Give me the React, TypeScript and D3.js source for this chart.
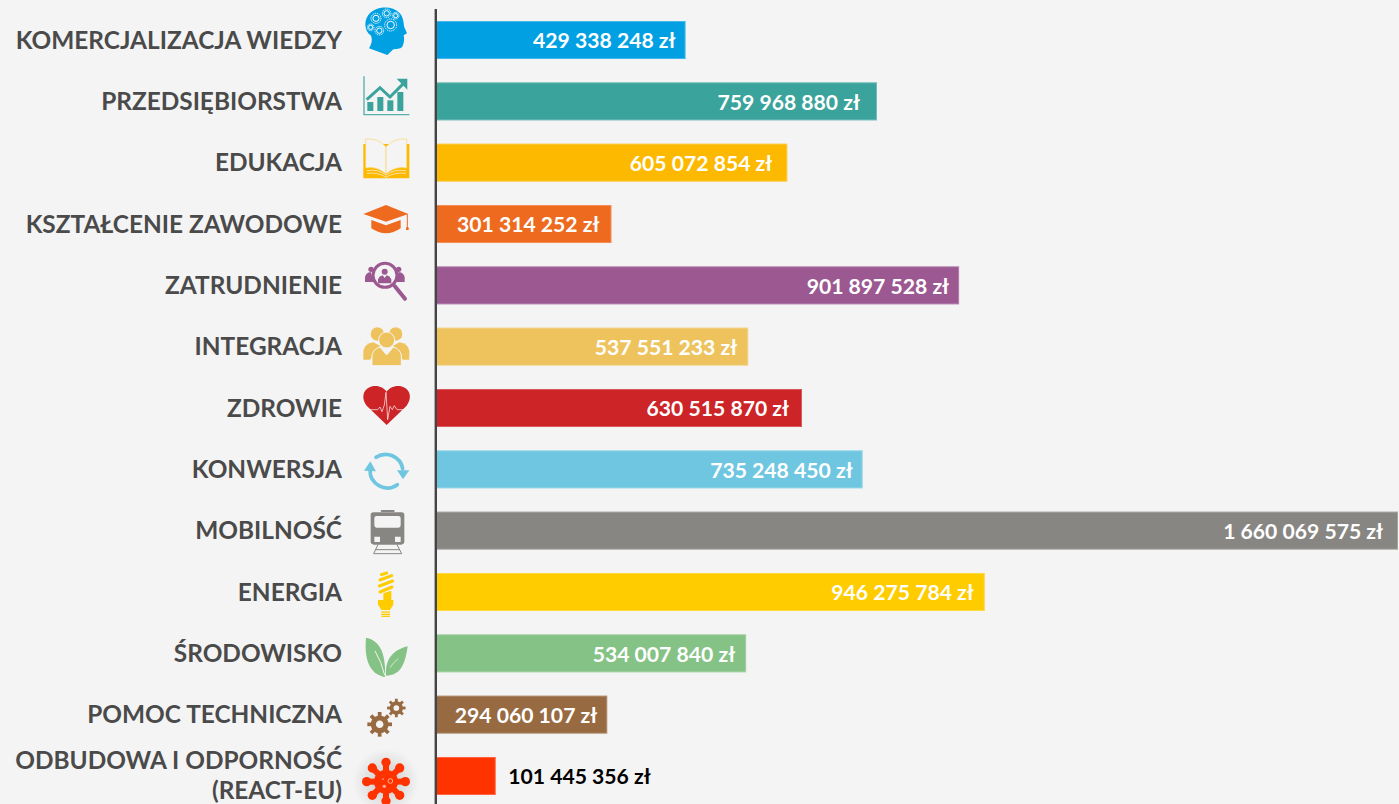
import * as d3 from "d3";
import React from "react";

const WIDTH = 1399;
const HEIGHT = 804;

const categories = [
  "KOMERCJALIZACJA WIEDZY",
  "PRZEDSIĘBIORSTWA",
  "EDUKACJA",
  "KSZTAŁCENIE ZAWODOWE",
  "ZATRUDNIENIE",
  "INTEGRACJA",
  "ZDROWIE",
  "KONWERSJA",
  "MOBILNOŚĆ",
  "ENERGIA",
  "ŚRODOWISKO",
  "POMOC TECHNICZNA",
  "ODBUDOWA I ODPORNOŚĆ|(REACT-EU)",
];

const amounts = [
  429338248, 759968880, 605072854, 301314252, 901897528, 537551233, 630515870,
  735248450, 1660069575, 946275784, 534007840, 294060107, 101445356,
];

const colors = [
  "#00a0e3", "#3aa39c", "#fdb900", "#ee6a1f", "#9b5891", "#eec35e", "#cd2427",
  "#6ec6e0", "#888682", "#ffcc00", "#85c285", "#986a41", "#ff3300",
];

// gap between the end of the amount and the end of its bar
const labelInsets = [10, 17, 15, 12, 10, 11, 13, 10, 15, 11, 11, 10];

const x = d3.scaleLinear().domain([0, 1660069575]).range([437, 1398]);
const y = d3.scaleBand<number>().domain(d3.range(categories.length)).range([21, 795]).paddingInner(0.38);

const BG = "#f4f4f4";

// polish thousands spacing
const formatZl = (v: number) => d3.format(",")(v).replace(/,/g, " ") + " zł";

// Icons are sketched in 3x zoomed pixels, anchored with refY to the middle of their bar
function Head({ c }: { c: string }) {
  const gears: [number, number, number][] = [[78, 55, 15], [110, 40, 13], [137, 47, 10], [122, 75, 18], [88, 92, 13], [62, 82, 10]];
  return (
    <g>
      <path fill={c} d="M57,145 C66,130 68,118 62,106 C45,95 40,65 55,45 C75,18 125,15 148,38 C162,52 160,70 163,82 L171,100 L161,106 C164,118 162,130 157,140 C150,148 138,146 130,148 L112,165 Z" />
      {gears.map(([cx, cy, r], i) => (
        <g key={i} fill="none" stroke="#fff">
          <circle cx={cx} cy={cy} r={r * 0.62} strokeWidth={3} />
          <circle cx={cx} cy={cy} r={r} strokeWidth={3} strokeDasharray="3.5 2.5" />
        </g>
      ))}
    </g>
  );
}

function Growth({ c }: { c: string }) {
  return (
    <g fill={c}>
      <path d="M42,228 V343 H178" fill="none" stroke={c} strokeWidth={4} opacity={0.85} />
      <rect x={52} y={305} width={18} height={27} />
      <rect x={82} y={290} width={18} height={42} />
      <rect x={112} y={300} width={18} height={32} />
      <rect x={142} y={275} width={18} height={57} />
      <path d="M50,298 L90,262 L120,290 L160,250" fill="none" stroke={c} strokeWidth={9} />
      <path d="M140,235 H172 V268 Z" />
    </g>
  );
}

function Book({ c }: { c: string }) {
  return (
    <g>
      <path fill={c} d="M40,430 H178 V533 H40 Z" />
      <path fill={BG} stroke="#fdd36b" strokeWidth={2} d="M47,415 Q85,412 108,438 V520 Q80,495 47,502 Z" />
      <path fill={BG} stroke="#fdd36b" strokeWidth={2} d="M170,415 Q132,412 108,438 V520 Q136,495 170,502 Z" />
      <path fill="none" stroke={BG} strokeWidth={2} d="M50,510 Q85,504 108,524 Q132,504 168,510 M50,518 Q85,514 108,530 Q132,514 168,518" />
    </g>
  );
}

function Cap({ c }: { c: string }) {
  return (
    <g fill={c}>
      <path d="M40,642 L108,615 L175,642 L108,665 Z" />
      <path d="M64,660 L108,676 L152,660 V685 Q108,715 64,685 Z" />
      <path d="M172,642 V685" stroke={c} strokeWidth={3} />
      <rect x={168} y={682} width={8} height={8} />
    </g>
  );
}

function Magnifier({ c }: { c: string }) {
  return (
    <g fill={c}>
      <circle cx={63} cy={42} r={8} />
      <circle cx={146} cy={42} r={8} />
      <path d="M45,80 V66 Q47,52 62,50 L72,80 Z" />
      <path d="M164,80 V66 Q162,52 146,50 L136,80 Z" />
      <circle cx={105} cy={60} r={36} fill={BG} stroke={c} strokeWidth={9} />
      <circle cx={104} cy={49} r={9} />
      <path d="M84,84 V72 Q88,62 98,60 L104,68 L110,60 Q120,62 124,72 V84 Z" />
      <path d="M134,92 L165,130" stroke={c} strokeWidth={12} strokeLinecap="round" />
    </g>
  );
}

function People({ c }: { c: string }) {
  return (
    <g fill={c}>
      <circle cx={82} cy={235} r={20} />
      <circle cx={137} cy={235} r={20} />
      <path d="M40,312 V285 Q44,264 70,260 L90,270 L60,312 Z" />
      <path d="M178,312 V285 Q174,264 148,260 L130,270 L158,312 Z" />
      <circle cx={110} cy={253} r={24} stroke={BG} strokeWidth={3} />
      <path stroke={BG} strokeWidth={3} d="M66,330 V298 Q70,280 90,274 L110,298 L130,274 Q150,280 154,298 V330 Z" />
    </g>
  );
}

function Heart({ c }: { c: string }) {
  return (
    <g>
      <path fill={c} d="M110,510 L50,452 C30,425 42,398 70,393 C88,391 102,398 110,410 C118,398 132,391 150,393 C178,398 190,425 170,452 Z" />
      <path fill="none" stroke="#fff" strokeWidth={2} d="M58,464 H83 L90,456 L96,470 L103,450 L108,412 L113,494 L120,454 L127,464 L133,452 L141,464 H165" />
    </g>
  );
}

function Cycle({ c }: { c: string }) {
  return (
    <g fill={c}>
      <path fill="none" stroke={c} strokeWidth={11} strokeLinecap="round" d="M78,606 A52,52 0 0 1 158,640" />
      <path fill="none" stroke={c} strokeWidth={11} strokeLinecap="round" d="M142,688 A52,52 0 0 1 60,645" />
      <path d="M141,645 H178 L159,672 Z" />
      <path d="M42,646 L78,648 L61,618 Z" />
    </g>
  );
}

function Train({ c }: { c: string }) {
  return (
    <g fill={c}>
      <rect x={92} y={28} width={42} height={6} rx={3} />
      <path fillRule="evenodd" d="M70,35 H155 Q163,35 163,43 V122 Q163,132 153,132 H72 Q62,132 62,122 V43 Q62,35 70,35 Z M80,46 Q73,46 73,53 V74 Q73,81 80,81 H145 Q152,81 152,74 V53 Q152,46 145,46 Z M73,108 V124 H90 V108 Z M135,108 V124 H152 V108 Z" />
      <path fill="none" stroke={c} strokeWidth={3} d="M84,132 L71,159 H155 L141,132 M76,147 H149" />
    </g>
  );
}

function Bulb({ c }: { c: string }) {
  return (
    <g fill={c}>
      <g fill="none" stroke={c} strokeWidth={9} strokeLinecap="round">
        <path d="M94,44 L110,39" />
        <path d="M90,60 L125,47" />
        <path d="M88,78 L128,63" />
        <path d="M90,96 L126,81" />
      </g>
      <path d="M100,100 L124,92 V120 H100 Z" />
      <path d="M84,120 H130 V134 L120,150 H94 L84,134 Z" />
      <rect x={94} y={154} width={26} height={4} />
      <rect x={94} y={161} width={26} height={4} />
      <rect x={94} y={167} width={26} height={4} />
    </g>
  );
}

function Leaves({ c }: { c: string }) {
  return (
    <g fill={c}>
      <path d="M48,232 C85,240 108,270 105,350 C75,345 40,320 48,232 Z" />
      <path d="M173,258 C165,315 150,345 108,346 C105,300 125,270 173,258 Z" />
      <path d="M75,272 Q95,305 104,345" fill="none" stroke={BG} strokeWidth={3} />
      <path d="M120,322 Q128,308 145,295" fill="none" stroke={BG} strokeWidth={2} />
    </g>
  );
}

function Gear({ cx, cy, r, c }: { cx: number; cy: number; r: number; c: string }) {
  const teeth = d3.range(8).map((i) => (i * 360) / 8);
  return (
    <g fill={c} transform={`translate(${cx},${cy})`}>
      {teeth.map((a) => (
        <rect key={a} x={-r * 0.2} y={-r * 1.32} width={r * 0.4} height={r * 0.5} transform={`rotate(${a})`} />
      ))}
      <circle r={r * 0.68} fill="none" stroke={c} strokeWidth={r * 0.55} />
    </g>
  );
}

function Gears({ c }: { c: string }) {
  return (
    <g>
      <Gear cx={89} cy={491} r={28} c={c} />
      <Gear cx={139} cy={442} r={21} c={c} />
    </g>
  );
}

function Virus({ c }: { c: string }) {
  const arms = d3.range(8).map((i) => (i * 360) / 8);
  return (
    <g>
      <circle cx={108} cy={665} r={100} fill="url(#virusShadow)" />
      <g transform="translate(108,665)" fill={c}>
        {arms.map((a) => (
          <g key={a} transform={`rotate(${a})`}>
            <rect x={-9} y={-60} width={18} height={40} />
            <circle cy={-58} r={14} />
          </g>
        ))}
        <circle r={36} />
        <circle cx={13} cy={-2} r={7} fill="none" stroke="#ffb199" strokeWidth={3} />
        <circle cx={-5} cy={14} r={5} fill="#ffb199" />
        <circle cx={-9} cy={-8} r={2.5} fill="#ffb199" />
      </g>
    </g>
  );
}

const icons: [(p: { c: string }) => React.ReactElement, number][] = [
  [Head, 120],
  [Growth, 303],
  [Book, 486],
  [Cap, 672],
  [Magnifier, 90],
  [People, 273],
  [Heart, 459],
  [Cycle, 642],
  [Train, 90],
  [Bulb, 96],
  [Leaves, 279],
  [Gears, 462],
  [Virus, 648],
];

export default function App() {
  return (
    <svg
      width={WIDTH}
      height={HEIGHT}
      viewBox={`0 0 ${WIDTH} ${HEIGHT}`}
      style={{ position: "absolute", left: 0, top: 0, background: BG, fontFamily: "Lato, 'Open Sans', sans-serif", fontWeight: 700 }}
    >
      <defs>
        <radialGradient id="virusShadow">
          <stop offset="0%" stopColor="#000" stopOpacity={0.2} />
          <stop offset="60%" stopColor="#000" stopOpacity={0.07} />
          <stop offset="100%" stopColor="#000" stopOpacity={0} />
        </radialGradient>
      </defs>

      {categories.map((name, i) => {
        const cy = y(i)! + y.bandwidth() / 2;
        const x1 = x(amounts[i]);
        const lines = name.split("|");
        const [Icon, refY] = icons[i];
        const last = i === categories.length - 1;
        const bh = y.bandwidth();
        return (
          <g key={name}>
            {lines.map((line, k) => (
              <text
                key={line}
                x={342}
                y={cy + (k - (lines.length - 1) / 2) * 30 - (lines.length > 1 ? 1 : 0)}
                dy="0.35em"
                textAnchor="end"
                fontSize={24.4}
                fill="#4a4a4a"
              >
                {line}
              </text>
            ))}
            <g transform={`translate(350,${cy}) scale(${1 / 3}) translate(0,${-refY})`}>
              <Icon c={colors[i]} />
            </g>
            <rect x={x(0)} y={y(i)} width={x1 - x(0)} height={bh} fill={colors[i]} />
            {/* faint lighter edge on top, right and bottom */}
            <path
              d={`M${x(0)},${y(i)! + 0.5} H${x1 - 0.5} V${y(i)! + bh - 0.5} H${x(0)}`}
              fill="none"
              stroke="#fff"
              strokeOpacity={0.25}
            />
            <text
              x={last ? x1 + 12.5 : x1 - labelInsets[i]}
              y={cy + 0.8}
              dy="0.35em"
              textAnchor={last ? "start" : "end"}
              fontSize={21.15}
              fill={last ? "#000" : "#fff"}
            >
              {formatZl(amounts[i])}
            </text>
          </g>
        );
      })}

      <line x1={435.8} x2={435.8} y1={9} y2={HEIGHT} stroke="#444" strokeWidth={2.4} />
    </svg>
  );
}
